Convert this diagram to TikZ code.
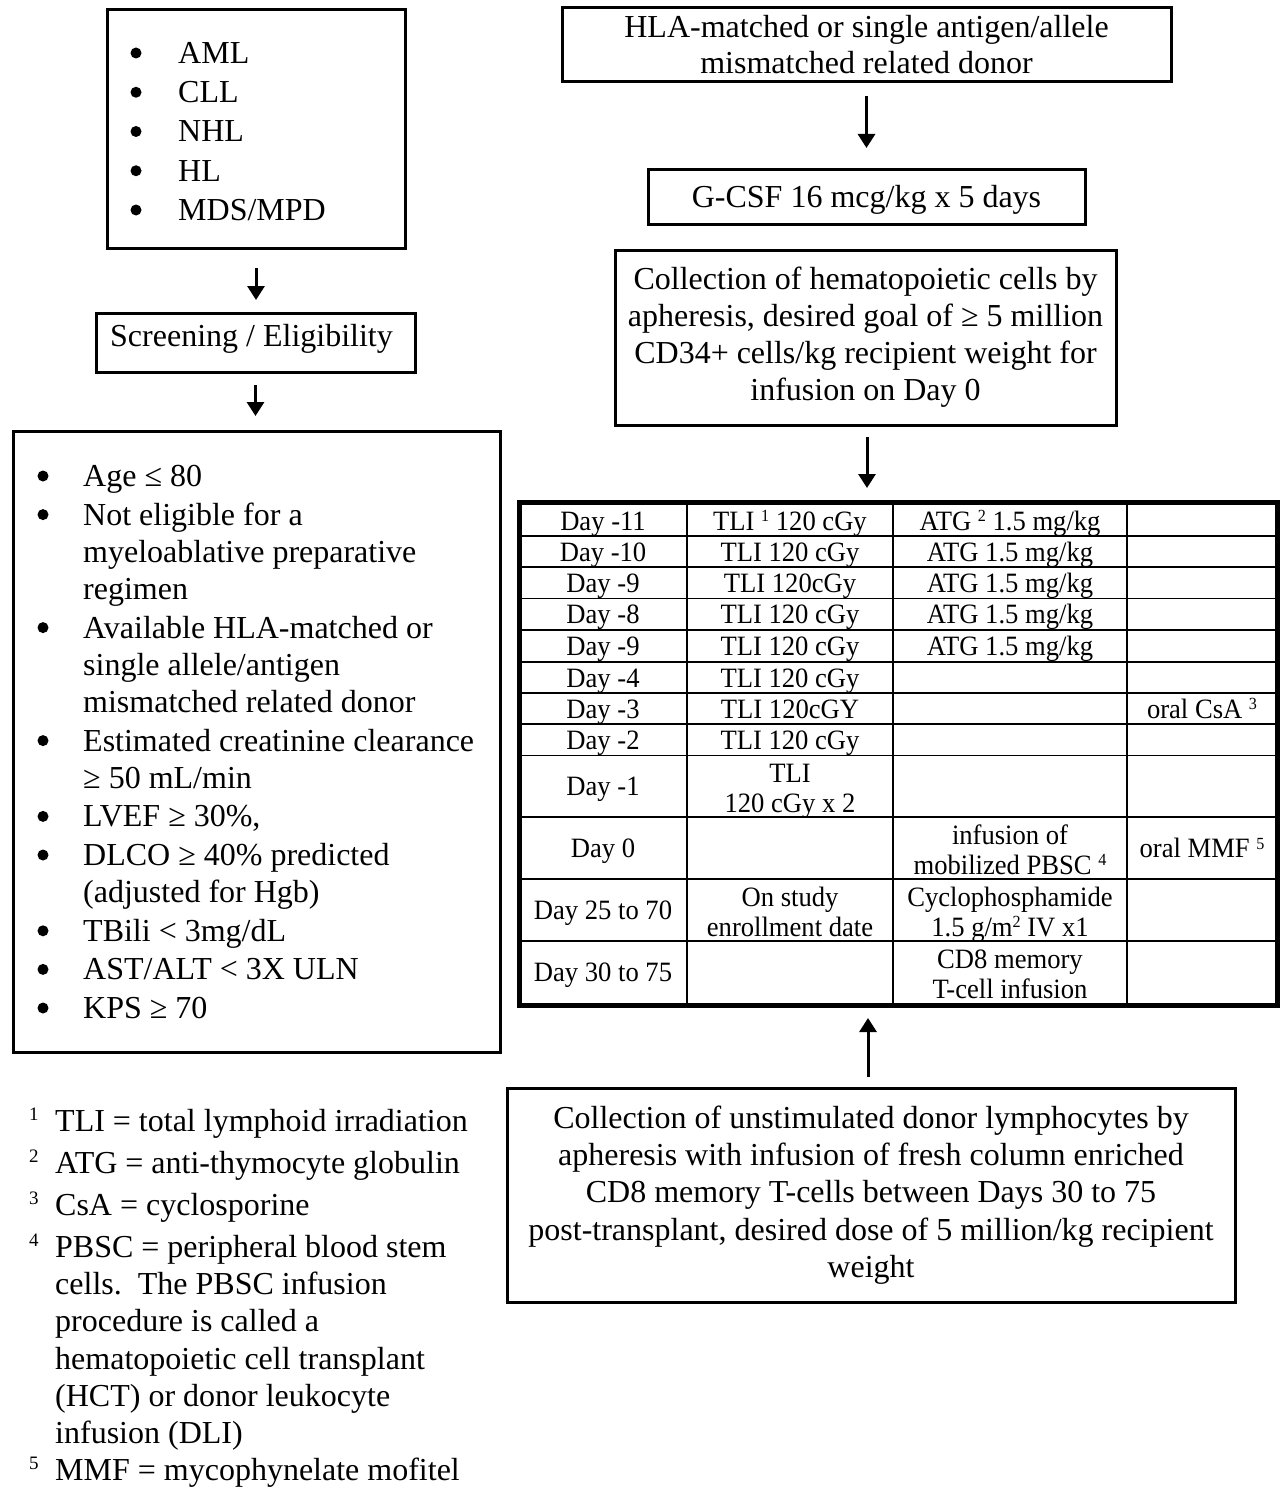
\documentclass[tikz,border=0pt]{standalone}
\usepackage{fontspec}
\setmainfont{Liberation Serif}
\newfontfamily\tabfont[FakeStretch=0.95]{Liberation Serif}
\usetikzlibrary{arrows.meta}
\newcommand\tsup[1]{\raisebox{8.5pt}{\fontsize{17}{17}\selectfont #1}}
\newcommand\fsup[1]{\raisebox{11pt}{\fontsize{19}{19}\selectfont #1}}
\begin{document}
\begin{tikzpicture}[x=1pt,y=-1pt,
 box/.style={draw,line width=3pt,inner sep=0pt,align=center,font=\fontsize{32}{37}\selectfont},
 arr/.style={line width=3pt,-{Triangle[length=14pt,width=17pt]}},
 grid/.style={line width=1.3pt},
 ln/.style={anchor=west,inner sep=0pt,text height=21pt,text depth=0pt,font=\fontsize{32}{37}\selectfont},
 cell/.style={inner sep=0pt,text height=19pt,text depth=0pt,font=\tabfont\fontsize{28}{29.5}\selectfont},
 bul/.style={fill=black}]
\useasboundingbox (0,0) rectangle (1280,1490);

% ---------------- left column ----------------
\node[box,minimum width=298pt,minimum height=238pt] (dx) at (256,129) {};
\foreach \y in {53,92.25,131.5,170.75,210} \fill[bul] (136,\y) circle (5.5pt);
\node[ln] (dx1) at (178,53) {AML};
\node[ln] (dx2) at (178,92.25) {CLL};
\node[ln] (dx3) at (178,131.5) {NHL};
\node[ln] (dx4) at (178,170.75) {HL};
\node[ln] (dx5) at (178,210) {MDS/MPD};

\node[box,minimum width=319pt,minimum height=59pt,text height=21pt,text depth=13pt] (scr) at (255.5,342.5) {Screening / Eligibility\hspace{8pt}};

\node[box,minimum width=487pt,minimum height=621pt] (crit) at (256.5,741.5) {};
\foreach \y in {476,514.6,627.6,740.6,816.4,855,930.8,969.4,1008} \fill[bul] (43,\y) circle (5.5pt);
\node[ln] (c1) at (83,476) {Age ≤ 80};
\node[ln] (c2) at (83,514.6) {Not eligible for a};
\node[ln] (c3) at (83,551.8) {myeloablative preparative};
\node[ln] (c4) at (83,589) {regimen};
\node[ln] (c5) at (83,627.6) {Available HLA-matched or};
\node[ln] (c6) at (83,664.8) {single allele/antigen};
\node[ln] (c7) at (83,702) {mismatched related donor};
\node[ln] (c8) at (83,740.6) {Estimated creatinine clearance};
\node[ln] (c9) at (83,777.8) {≥ 50 mL/min};
\node[ln] (c10) at (83,816.4) {LVEF ≥ 30\%,};
\node[ln] (c11) at (83,855) {DLCO ≥ 40\% predicted};
\node[ln] (c12) at (83,892.2) {(adjusted for Hgb)};
\node[ln] (c13) at (83,930.8) {TBili < 3mg/dL};
\node[ln] (c14) at (83,969.4) {AST/ALT < 3X ULN};
\node[ln] (c15) at (83,1008) {KPS ≥ 70};

% footnotes
\node[ln] (f1) at (29,1121) {\makebox[26pt][l]{\fsup{1}}TLI = total lymphoid irradiation};
\node[ln] (f2) at (29,1163) {\makebox[26pt][l]{\fsup{2}}ATG = anti-thymocyte globulin};
\node[ln] (f3) at (29,1205) {\makebox[26pt][l]{\fsup{3}}CsA = cyclosporine};
\node[ln] (f4) at (29,1247) {\makebox[26pt][l]{\fsup{4}}PBSC = peripheral blood stem};
\node[ln] (f5) at (55,1284.2) {cells.\ \ The PBSC infusion};
\node[ln] (f6) at (55,1321.4) {procedure is called a};
\node[ln] (f7) at (55,1358.6) {hematopoietic cell transplant};
\node[ln] (f8) at (55,1395.8) {(HCT) or donor leukocyte};
\node[ln] (f9) at (55,1433) {infusion (DLI)};
\node[ln] (f10) at (29,1470) {\makebox[26pt][l]{\fsup{5}}MMF = mycophynelate mofitel};

% ---------------- right column ----------------
\node[box,minimum width=609pt,minimum height=74pt,font=\fontsize{32}{36}\selectfont] (hla) at (866.5,45) {HLA-matched or single antigen/allele\\mismatched related donor};
\node[box,minimum width=437pt,minimum height=54pt,text height=21pt,text depth=0pt] (gcsf) at (866.5,197) {G-CSF 16 mcg/kg x 5 days};
\node[box,minimum width=501pt,minimum height=175pt] (coll) at (865.5,337.5) {Collection of hematopoietic cells by\\apheresis, desired goal of ≥ 5 million\\CD34+ cells/kg recipient weight for\\infusion on Day 0};
\node[box,minimum width=728pt,minimum height=214pt,font=\fontsize{32}{37.25}\selectfont] (don) at (871,1195) {Collection of unstimulated donor lymphocytes by\\apheresis with infusion of fresh column enriched\\CD8 memory T-cells between Days 30 to 75\\post-transplant, desired dose of 5 million/kg recipient\\weight};

% table grid
\foreach \x in {687,893,1127} \draw[grid] (\x,502) -- (\x,1005);
\foreach \y in {536,567,598.5,630,662,693,724,755.5,817,879,941} \draw[grid] (519,\y) -- (1277,\y);
\node[draw,line width=5pt,minimum width=758pt,minimum height=503pt,inner sep=0pt] (tab) at (898,753.5) {};

% table cells
\node[cell] (t1a) at (603,520.5) {Day -11};
\node[cell] (t1b) at (790,520.5) {TLI \tsup{1} 120 cGy};
\node[cell] (t1c) at (1010,520.5) {ATG \tsup{2} 1.5 mg/kg};
\node[cell] (t2a) at (603,551.5) {Day -10};
\node[cell] (t2b) at (790,551.5) {TLI 120 cGy};
\node[cell] (t2c) at (1010,551.5) {ATG 1.5 mg/kg};
\node[cell] (t3a) at (603,583) {Day -9};
\node[cell] (t3b) at (790,583) {TLI 120cGy};
\node[cell] (t3c) at (1010,583) {ATG 1.5 mg/kg};
\node[cell] (t4a) at (603,614) {Day -8};
\node[cell] (t4b) at (790,614) {TLI 120 cGy};
\node[cell] (t4c) at (1010,614) {ATG 1.5 mg/kg};
\node[cell] (t5a) at (603,646) {Day -9};
\node[cell] (t5b) at (790,646) {TLI 120 cGy};
\node[cell] (t5c) at (1010,646) {ATG 1.5 mg/kg};
\node[cell] (t6a) at (603,677.5) {Day -4};
\node[cell] (t6b) at (790,677.5) {TLI 120 cGy};
\node[cell] (t7a) at (603,708.5) {Day -3};
\node[cell] (t7b) at (790,708.5) {TLI 120cGY};
\node[cell] (t7d) at (1202,708.5) {oral CsA \tsup{3}};
\node[cell] (t8a) at (603,740) {Day -2};
\node[cell] (t8b) at (790,740) {TLI 120 cGy};
\node[cell] (t9a) at (603,786) {Day -1};
\node[cell] (t9b1) at (790,773) {TLI};
\node[cell] (t9b2) at (790,802.5) {120 cGy x 2};
\node[cell] (t10a) at (603,848) {Day 0};
\node[cell] (t10c1) at (1010,835) {infusion of};
\node[cell] (t10c2) at (1010,864.5) {mobilized PBSC \tsup{4}};
\node[cell] (t10d) at (1202,848) {oral MMF \tsup{5}};
\node[cell] (t11a) at (603,910) {Day 25 to 70};
\node[cell] (t11b1) at (790,897) {On study};
\node[cell] (t11b2) at (790,926.5) {enrollment date};
\node[cell] (t11c1) at (1010,897) {Cyclophosphamide};
\node[cell] (t11c2) at (1010,926.5) {1.5 g/m\tsup{2} IV x1};
\node[cell] (t12a) at (603,971.75) {Day 30 to 75};
\node[cell] (t12c1) at (1010,959) {CD8 memory};
\node[cell] (t12c2) at (1010,988.5) {T-cell infusion};

% arrows
\draw[arr,shorten <=18.5pt,shorten >=11.5pt] (dx.south) -- (dx.south |- scr.north);
\draw[arr,shorten <=11.5pt,shorten >=13.5pt] (scr.south) -- (scr.south |- crit.north);
\draw[arr,shorten <=12.5pt,shorten >=20.5pt] (hla.south) -- (hla.south |- gcsf.north);
\draw[arr,shorten <=10.5pt,shorten >=11.5pt] ([xshift=1.5pt]coll.south) -- ([xshift=1.5pt]coll.south |- tab.north);
\draw[arr,shorten <=9.5pt,shorten >=10.5pt] ([xshift=-3pt]don.north) -- ([xshift=-3pt]don.north |- tab.south);
\end{tikzpicture}
\end{document}
